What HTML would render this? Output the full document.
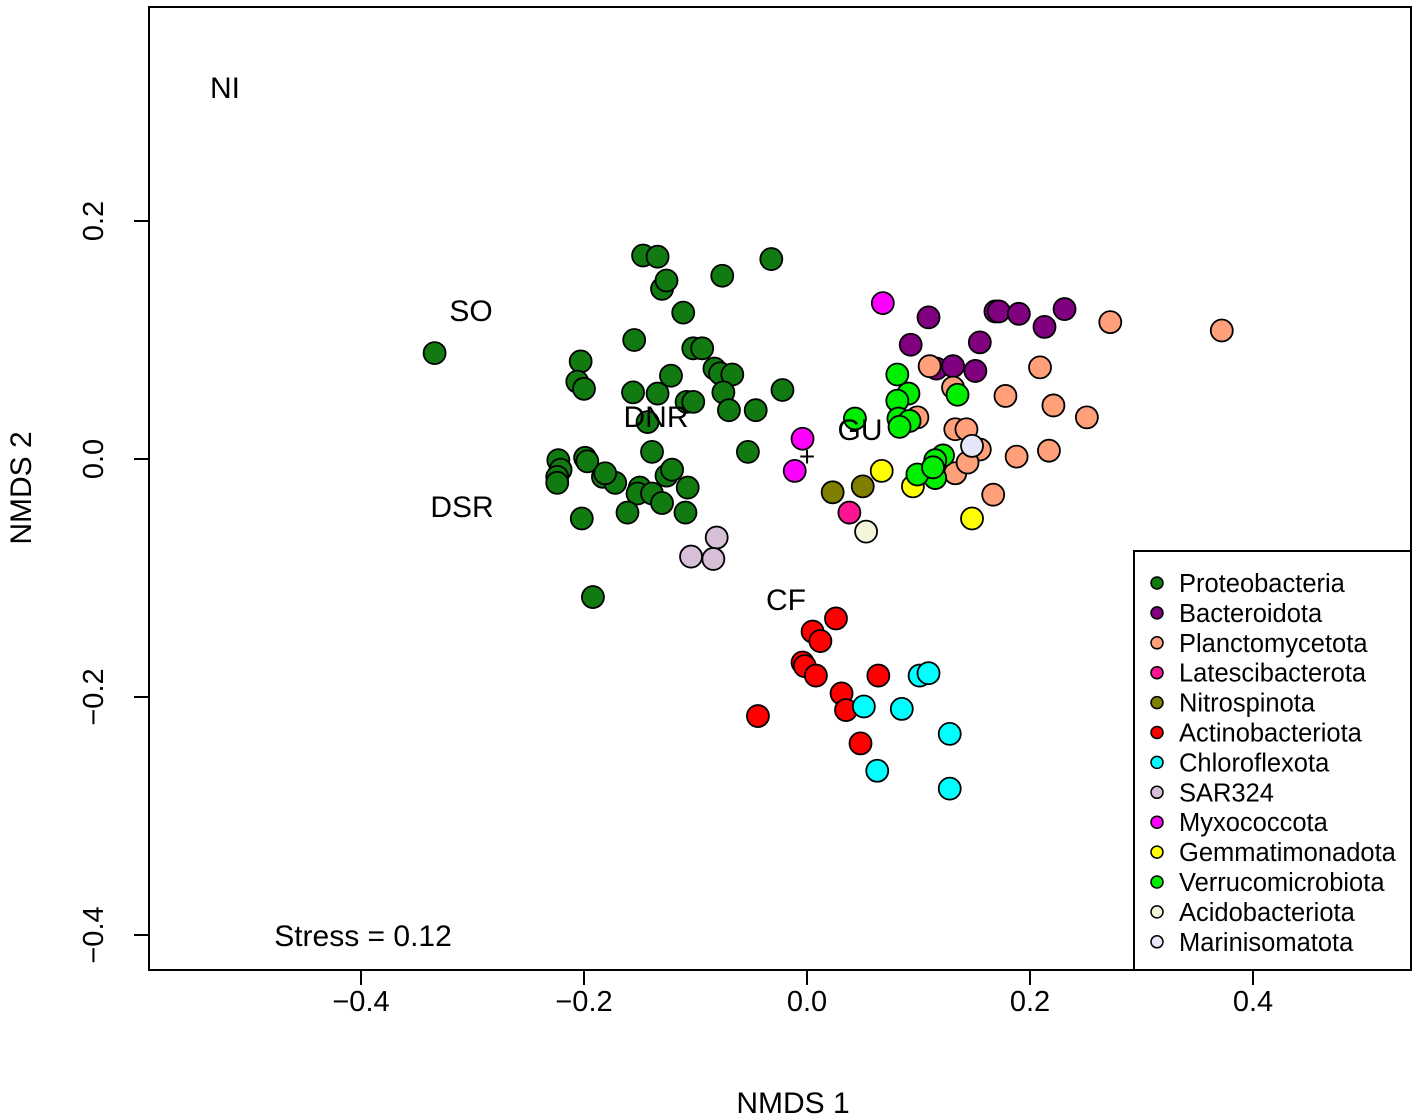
<!DOCTYPE html>
<html><head><meta charset="utf-8"><style>
html,body{margin:0;padding:0;background:#fff}
svg{display:block;font-family:"Liberation Sans",Arial,sans-serif}
</style></head><body>
<svg id="chart" width="1418" height="1120" viewBox="0 0 1418 1120" xmlns="http://www.w3.org/2000/svg">
<rect x="149" y="7" width="1262" height="963" fill="none" stroke="#000" stroke-width="2"/>
<g id="axes"></g>
<g id="points"></g>
<g id="labels" font-size="30" fill="#000">
<text x="225" y="98" text-anchor="middle">NI</text>
<text x="471" y="321" text-anchor="middle">SO</text>
<text x="656" y="427" text-anchor="middle">DNR</text>
<text x="860" y="440" text-anchor="middle">GU</text>
<text x="462" y="517" text-anchor="middle">DSR</text>
<text x="786" y="610" text-anchor="middle">CF</text>
<text x="807" y="466" text-anchor="middle" font-size="28">+</text>
<text x="363" y="946" text-anchor="middle">Stress = 0.12</text>
</g>
<text x="793" y="1113" text-anchor="middle" font-size="30">NMDS 1</text>
<text transform="translate(31,488) rotate(-90)" text-anchor="middle" font-size="30">NMDS 2</text>
<g id="legend"></g>
</svg>
<script>
const phyla = ["Proteobacteria","Bacteroidota","Planctomycetota","Latescibacterota","Nitrospinota","Actinobacteriota","Chloroflexota","SAR324","Myxococcota","Gemmatimonadota","Verrucomicrobiota","Acidobacteriota","Marinisomatota"];
const colors = ["#117a11","#800080","#FFA07A","#FF1493","#808000","#FF0000","#00FFFF","#D8BFD8","#FF00FF","#FFFF00","#00EE00","#F5F5DC","#E6E6FA"];
const xTicks = [-0.4,-0.2,0.0,0.2,0.4];
const yTicks = [-0.4,-0.2,0.0,0.2];
const proteoX = [-0.334,-0.147,-0.134,-0.130,-0.126,-0.076,-0.032,-0.111,-0.155,-0.203,-0.206,-0.200,-0.156,-0.134,-0.122,-0.102,-0.094,-0.083,-0.078,-0.067,-0.075,-0.070,-0.046,-0.022,-0.108,-0.102,-0.143,-0.139,-0.053,-0.223,-0.221,-0.224,-0.224,-0.199,-0.197,-0.183,-0.172,-0.181,-0.150,-0.152,-0.139,-0.130,-0.161,-0.109,-0.126,-0.121,-0.107,-0.202,-0.192];
const proteoY = [0.089,0.171,0.170,0.143,0.150,0.154,0.168,0.123,0.100,0.082,0.065,0.059,0.056,0.055,0.070,0.093,0.093,0.076,0.072,0.071,0.056,0.041,0.041,0.058,0.048,0.048,0.031,0.006,0.006,-0.001,-0.009,-0.015,-0.020,0.001,-0.002,-0.015,-0.020,-0.012,-0.024,-0.029,-0.029,-0.037,-0.045,-0.045,-0.014,-0.009,-0.024,-0.050,-0.116];
const bactX = [0.109,0.093,0.155,0.169,0.172,0.190,0.213,0.231,0.116,0.131,0.151];
const bactY = [0.119,0.096,0.098,0.124,0.124,0.122,0.111,0.126,0.076,0.078,0.074];
const planctoX = [0.110,0.131,0.209,0.178,0.221,0.251,0.099,0.133,0.143,0.155,0.133,0.144,0.188,0.217,0.167,0.272,0.372];
const planctoY = [0.078,0.060,0.077,0.053,0.045,0.035,0.035,0.025,0.025,0.008,-0.012,-0.003,0.002,0.007,-0.030,0.115,0.108];
const latesX = [0.038], latesY = [-0.045];
const nitroX = [0.023,0.050], nitroY = [-0.028,-0.023];
const actinoX = [0.026,0.005,0.012,-0.004,-0.002,0.008,-0.044,0.031,0.035,0.064,0.048];
const actinoY = [-0.134,-0.145,-0.153,-0.171,-0.174,-0.182,-0.216,-0.197,-0.211,-0.182,-0.239];
const chloroX = [0.101,0.109,0.051,0.085,0.128,0.063,0.128];
const chloroY = [-0.182,-0.180,-0.208,-0.210,-0.231,-0.262,-0.277];
const sarX = [-0.081,-0.104,-0.084], sarY = [-0.066,-0.082,-0.084];
const myxoX = [-0.004,-0.011,0.068], myxoY = [0.017,-0.010,0.131];
const gemmaX = [0.067,0.095,0.148], gemmaY = [-0.010,-0.023,-0.050];
const verruX = [0.081,0.091,0.081,0.082,0.092,0.083,0.043,0.135,0.122,0.115,0.115,0.099,0.113];
const verruY = [0.071,0.055,0.049,0.034,0.032,0.027,0.034,0.054,0.003,-0.001,-0.016,-0.013,-0.007];
const acidoX = [0.053], acidoY = [-0.061];
const mariX = [0.148], mariY = [0.011];

const NS="http://www.w3.org/2000/svg";
function sx(v){return 807+v*1115;}
function sy(v){return 459-v*1190;}
function mk(tag,attrs,parent){const e=document.createElementNS(NS,tag);for(const k in attrs)e.setAttribute(k,attrs[k]);parent.appendChild(e);return e;}
function fmt(v){return (v<0?"\u2212":"")+Math.abs(v).toFixed(1);}

const axes=document.getElementById('axes');
mk('line',{x1:sx(-0.4),x2:sx(0.4),y1:970,y2:970,stroke:'#000','stroke-width':2},axes);
mk('line',{x1:149,x2:149,y1:sy(-0.4),y2:sy(0.2),stroke:'#000','stroke-width':2},axes);
xTicks.forEach(v=>{
  const t=mk('line',{x1:sx(v),x2:sx(v),y1:970,y2:985,stroke:'#000','stroke-width':2},axes);
  
  
  const l=mk('text',{x:sx(v),y:1011,'text-anchor':'middle','font-size':29},axes);
  l.textContent=fmt(v);
  
  
});
yTicks.forEach(v=>{
  const t=mk('line',{x1:134,x2:149,y1:sy(v),y2:sy(v),stroke:'#000','stroke-width':2},axes);
  
  
  const l=mk('text',{transform:`translate(103,${sy(v)}) rotate(-90)`,'text-anchor':'middle','font-size':29},axes);
  l.textContent=fmt(v);
  
  
});

const series=[[proteoX,proteoY],[bactX,bactY],[planctoX,planctoY],[latesX,latesY],[nitroX,nitroY],[actinoX,actinoY],[chloroX,chloroY],[sarX,sarY],[myxoX,myxoY],[gemmaX,gemmaY],[verruX,verruY],[acidoX,acidoY],[mariX,mariY]];
const pts=document.getElementById('points');
series.forEach((s,i)=>{
  s[0].forEach((x,j)=>{
    const c=mk('circle',{cx:sx(x),cy:sy(s[1][j]),r:11,fill:colors[i],stroke:'#000','stroke-width':1.8},pts);
    
    
  });
});

const lg=document.getElementById('legend');
const box=mk('rect',{x:1134,y:551,width:277,height:419,fill:'#fff',stroke:'#000','stroke-width':2},lg);


phyla.forEach((p,i)=>{
  const y=583+i*29.9;
  const c=mk('circle',{cx:1157,cy:y,r:6,fill:colors[i],stroke:'#000','stroke-width':1.5},lg);
  
  
  const t=mk('text',{x:1179,y:y+9,'font-size':25.5},lg);
  t.textContent=p;
  
  
});
</script>
</body></html>
